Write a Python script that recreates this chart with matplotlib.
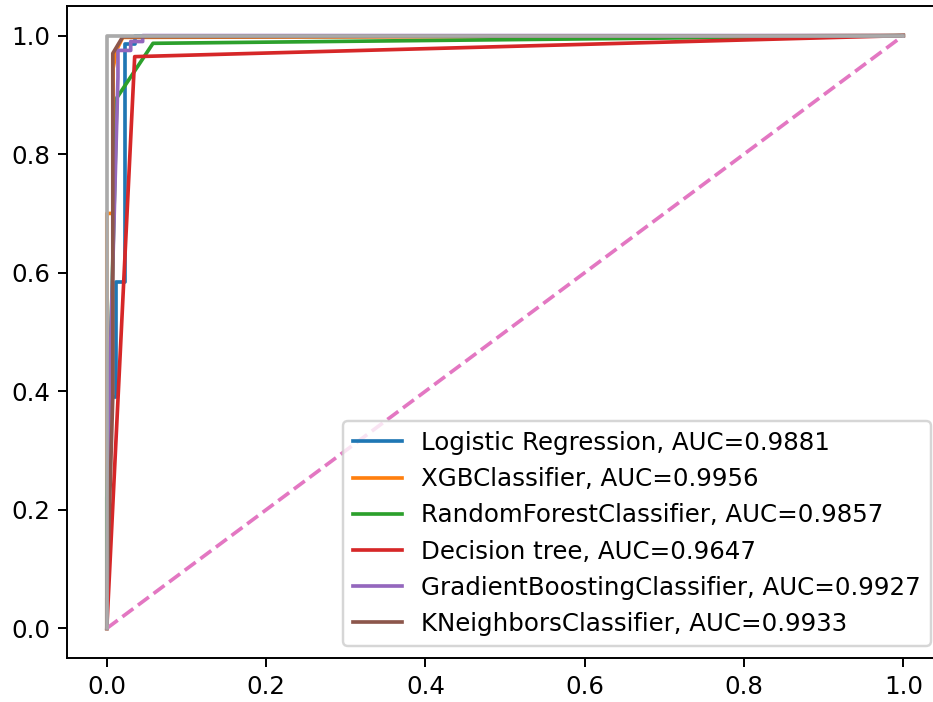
import matplotlib
matplotlib.use("Agg")
import matplotlib.pyplot as plt

# ROC points (fpr, tpr) per model
modelos = ["Logistic Regression", "XGBClassifier", "RandomForestClassifier",
           "Decision tree", "GradientBoostingClassifier", "KNeighborsClassifier"]
auc = [0.9881, 0.9956, 0.9857, 0.9647, 0.9927, 0.9933]

fpr_lr = [0, 0, 0.011, 0.011, 0.023, 0.023, 0.035, 0.035, 1]
tpr_lr = [0, 0.39, 0.39, 0.585, 0.585, 0.985, 0.985, 1, 1]

fpr_xgb = [0, 0, 0.008, 0.008, 0.012, 0.02, 1]
tpr_xgb = [0, 0.70, 0.70, 0.945, 0.975, 0.997, 1]

fpr_rf = [0, 0, 0.0126, 0.058, 1]
tpr_rf = [0, 0.22, 0.895, 0.987, 1]

fpr_dt = [0, 0.035, 1]
tpr_dt = [0, 0.9645, 1]

fpr_gb = [0, 0.003, 0.014, 0.014, 0.03, 0.03, 0.045, 0.045, 1]
tpr_gb = [0, 0.39, 0.93, 0.975, 0.975, 0.99, 0.99, 1, 1]

fpr_knn = [0, 0, 0.0075, 0.0075, 0.02, 1]
tpr_knn = [0, 0.05, 0.39, 0.97, 0.998, 1]

curvas = [(fpr_lr, tpr_lr), (fpr_xgb, tpr_xgb), (fpr_rf, tpr_rf),
          (fpr_dt, tpr_dt), (fpr_gb, tpr_gb), (fpr_knn, tpr_knn)]

# reference lines: random guess and perfect classifier
aleatorio_x = [0, 1]
aleatorio_y = [0, 1]
perfeito_x = [0, 0, 1]
perfeito_y = [0, 1, 1]

fig = plt.figure(figsize=(933 / 176, 702 / 176), dpi=176)
ax = fig.add_axes([0.0718, 0.0627, 0.939, 0.9288])

for nome, a, (fpr, tpr) in zip(modelos, auc, curvas):
    ax.plot(fpr, tpr, label=nome + ", AUC=" + str(a))

ax.plot(aleatorio_x, aleatorio_y, linestyle="--")
ax.plot(perfeito_x, perfeito_y, color="#aaaaaa")

ax.legend(loc="lower right")
fig.savefig("out.png", dpi=176)
plt.close(fig)
